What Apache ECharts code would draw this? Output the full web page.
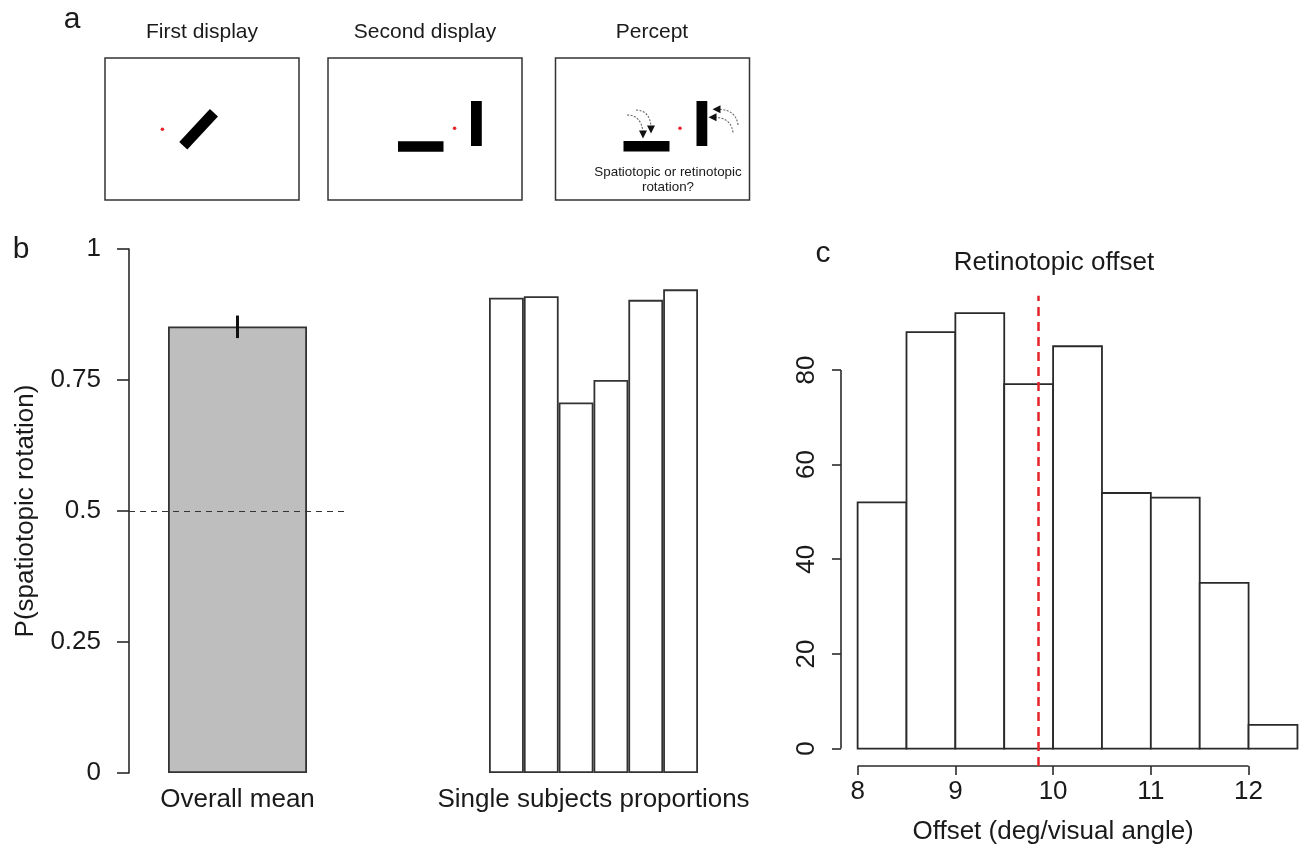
<!DOCTYPE html>
<html><head><meta charset="utf-8">
<script src="https://cdn.jsdelivr.net/npm/echarts@6/dist/echarts.min.js"></script>
<style>html,body{margin:0;padding:0;background:#fff}#chart{width:1299px;height:850px}</style>
</head><body><div id="chart"></div>
<script>
// ---- data ----
const displayTitles = ['First display', 'Second display', 'Percept'];
const perceptQuestion = ['Spatiotopic or retinotopic', 'rotation?'];
const panelLetters = ['a', 'b', 'c'];

const overallCategory = ['Overall mean'];
const overallMean = [0.852];
const overallErrLow = [0.830];
const overallErrHigh = [0.873];
const chanceLevel = 0.5;
const pTicks = [0, 0.25, 0.5, 0.75, 1];

const subjectIds = ['S1', 'S2', 'S3', 'S4', 'S5', 'S6'];
const subjectProportions = [0.907, 0.910, 0.707, 0.750, 0.903, 0.923];

const binStarts = [8, 8.5, 9, 9.5, 10, 10.5, 11, 11.5, 12];
const binEnds = [8.5, 9, 9.5, 10, 10.5, 11, 11.5, 12, 12.5];
const binCounts = [52, 88, 92, 77, 85, 54, 53, 35, 5];
const meanOffset = 9.845;
const offsetTicks = [8, 9, 10, 11, 12];
const countTicks = [0, 20, 40, 60, 80];
const offsetRange = [7.83, 12.17];
const countRange = [-3.68, 95.68];

// ---- styling ----
const FONT = '"Liberation Sans", Arial, Helvetica, sans-serif';
const INK = '#1a1a1a';
const LINE = '#2a2a2a';
const txt = (size) => ({fontSize: size, fontFamily: FONT, color: INK});

const chart = echarts.init(document.getElementById('chart'), null, {renderer: 'canvas'});

function gText(text, x, y, size, extra) {
  return Object.assign({type: 'text', silent: true, style: {
    text: text, x: x, y: y, align: 'center', verticalAlign: 'middle',
    fontSize: size, fontFamily: FONT, fill: INK}}, extra || {});
}
function box(x) {
  return {type: 'rect', silent: true, shape: {x: x, y: 58, width: 194, height: 142},
    style: {fill: '#fff', stroke: '#333', lineWidth: 1.5}};
}
function blk(x, y, w, h) {
  return {type: 'rect', silent: true, shape: {x: x, y: y, width: w, height: h}, style: {fill: '#000'}};
}
function dot(x, y) {
  return {type: 'circle', silent: true, shape: {cx: x, cy: y, r: 1.8}, style: {fill: '#e8232b'}};
}
function curve(x1, y1, cx, cy, x2, y2) {
  return {type: 'bezierCurve', silent: true,
    shape: {x1: x1, y1: y1, cpx1: cx, cpy1: cy, x2: x2, y2: y2},
    style: {stroke: '#666', lineWidth: 1.1, lineDash: [2, 1.5], fill: null}};
}
function head(points) {
  return {type: 'polygon', silent: true, shape: {points: points}, style: {fill: '#111'}};
}

const schematic = [
  gText(panelLetters[0], 72, 20, 30),
  gText(panelLetters[1], 21, 250, 30),
  gText(panelLetters[2], 823, 254, 30),
  gText(displayTitles[0], 202, 32, 21),
  gText(displayTitles[1], 425, 32, 21),
  gText(displayTitles[2], 652, 32, 21),
  box(105), box(328), box(555.5),
  // first display
  dot(162.4, 129.3),
  {type: 'rect', silent: true, x: 198.6, y: 129.2, rotation: 47 * Math.PI / 180,
    shape: {x: -22.5, y: -5.5, width: 45, height: 11}, style: {fill: '#000'}},
  // second display
  dot(454.6, 128.3),
  blk(398, 141.3, 45.5, 10.5),
  blk(471, 101, 10.8, 45),
  // percept
  dot(680, 128.2),
  blk(623.5, 141, 46, 10.5),
  blk(696.5, 101, 10.8, 45),
  curve(627, 115, 641, 115, 643, 132),
  head([[639, 130.5], [647, 130.5], [643, 138.5]]),
  curve(636, 110, 650, 110.5, 651, 127),
  head([[647, 125.5], [655, 125.5], [651, 133.5]]),
  curve(738, 125, 736, 110, 719.5, 109.3),
  head([[720.5, 105.3], [720.5, 113.3], [712.5, 109.3]]),
  curve(733, 132.5, 731, 118, 715.5, 117.3),
  head([[716.5, 113.3], [716.5, 121.3], [708.5, 117.3]]),
  gText(perceptQuestion[0], 668, 172, 13.4),
  gText(perceptQuestion[1], 668, 187, 13.4),
  // panel c y label
  gText('n.trials', 777, 512, 26, {rotation: Math.PI / 2})
];

const axisLineStyle = {color: LINE, width: 1.6};

const option = {
  backgroundColor: '#fff',
  animation: false,
  title: {text: 'Retinotopic offset', left: 1054, top: 250, textAlign: 'center', padding: 0,
    textStyle: {fontSize: 26, fontWeight: 'normal', fontFamily: FONT, color: INK}},
  graphic: schematic,
  grid: [
    {left: 129, top: 249, width: 217, height: 524},
    {left: 489, top: 249, width: 209, height: 524},
    {left: 841, top: 295.7, width: 424.2, height: 477}
  ],
  xAxis: [
    {gridIndex: 0, type: 'category', data: overallCategory,
      axisLine: {show: false}, axisTick: {show: false},
      axisLabel: Object.assign(txt(26), {margin: 14})},
    {gridIndex: 1, type: 'category', data: subjectIds,
      axisLine: {show: false}, axisTick: {show: false}, axisLabel: {show: false},
      name: 'Single subjects proportions', nameLocation: 'middle', nameGap: 14,
      nameTextStyle: txt(26)},
    {gridIndex: 2, type: 'value', min: offsetRange[0], max: offsetRange[1],
      axisLine: {show: false, onZero: false}, splitLine: {show: false},
      axisTick: {show: true, customValues: offsetTicks, length: 9, lineStyle: axisLineStyle},
      axisLabel: Object.assign(txt(26), {customValues: offsetTicks, margin: 13}),
      name: 'Offset (deg/visual angle)', nameLocation: 'middle', nameGap: 53,
      nameTextStyle: txt(26)}
  ],
  yAxis: [
    {gridIndex: 0, type: 'value', min: pTicks[0], max: pTicks[pTicks.length - 1], interval: 0.25,
      axisLine: {show: true, lineStyle: axisLineStyle},
      axisTick: {show: true, length: 12, lineStyle: axisLineStyle},
      axisLabel: Object.assign(txt(26), {margin: 28}),
      splitLine: {show: false},
      name: 'P(spatiotopic rotation)', nameLocation: 'middle', nameGap: 90,
      nameTextStyle: txt(26)},
    {gridIndex: 1, type: 'value', min: pTicks[0], max: pTicks[pTicks.length - 1], show: false},
    {gridIndex: 2, type: 'value', min: countRange[0], max: countRange[1],
      axisLine: {show: false, onZero: false}, splitLine: {show: false},
      axisTick: {show: true, customValues: countTicks, length: 9, lineStyle: axisLineStyle},
      axisLabel: Object.assign(txt(26), {customValues: countTicks, rotate: 90, margin: 21})}
  ],
  series: [
    {type: 'bar', xAxisIndex: 0, yAxisIndex: 0, data: overallMean, barWidth: 139,
      itemStyle: {color: '#bebebe', borderColor: '#333', borderWidth: 1.8},
      markLine: {silent: true, symbol: 'none', label: {show: false},
        lineStyle: {color: '#333', type: [6, 5], width: 1},
        data: [{yAxis: chanceLevel}]}},
    {type: 'custom', xAxisIndex: 0, yAxisIndex: 0, clip: false,
      data: overallErrLow.map((l, i) => [i, l, overallErrHigh[i]]),
      encode: {x: 0, y: [1, 2]},
      renderItem: function (params, api) {
        const a = api.coord([api.value(0), api.value(1)]);
        const b = api.coord([api.value(0), api.value(2)]);
        return {type: 'line', shape: {x1: a[0], y1: a[1], x2: b[0], y2: b[1]},
          style: {stroke: '#111', lineWidth: 3}};
      }, z: 5},
    {type: 'bar', xAxisIndex: 1, yAxisIndex: 1, data: subjectProportions, barCategoryGap: '0%',
      itemStyle: {color: '#fff', borderColor: '#333', borderWidth: 1.8}},
    {type: 'custom', xAxisIndex: 2, yAxisIndex: 2, clip: false,
      data: binStarts.map((s, i) => [s, binEnds[i], binCounts[i]]),
      encode: {x: [0, 1], y: 2},
      renderItem: function (params, api) {
        const p0 = api.coord([api.value(0), 0]);
        const p1 = api.coord([api.value(1), api.value(2)]);
        return {type: 'rect',
          shape: {x: p0[0], y: p1[1], width: p1[0] - p0[0], height: p0[1] - p1[1]},
          style: {fill: '#fff', stroke: LINE, lineWidth: 1.8}};
      },
      markLine: {silent: true, symbol: 'none', label: {show: false},
        lineStyle: {color: '#e3242b', type: [9, 6], width: 2.5},
        data: [{xAxis: meanOffset}]}},
    {type: 'custom', xAxisIndex: 2, yAxisIndex: 2, clip: false,
      data: [
        [offsetTicks[0], countRange[0], offsetTicks[offsetTicks.length - 1], countRange[0]],
        [offsetRange[0], countTicks[0], offsetRange[0], countTicks[countTicks.length - 1]]
      ],
      encode: {x: [0, 2], y: [1, 3]},
      renderItem: function (params, api) {
        const a = api.coord([api.value(0), api.value(1)]);
        const b = api.coord([api.value(2), api.value(3)]);
        return {type: 'line', shape: {x1: a[0], y1: a[1], x2: b[0], y2: b[1]},
          style: {stroke: LINE, lineWidth: 1.6}};
      }}
  ]
};
chart.setOption(option);
</script>
</body></html>
